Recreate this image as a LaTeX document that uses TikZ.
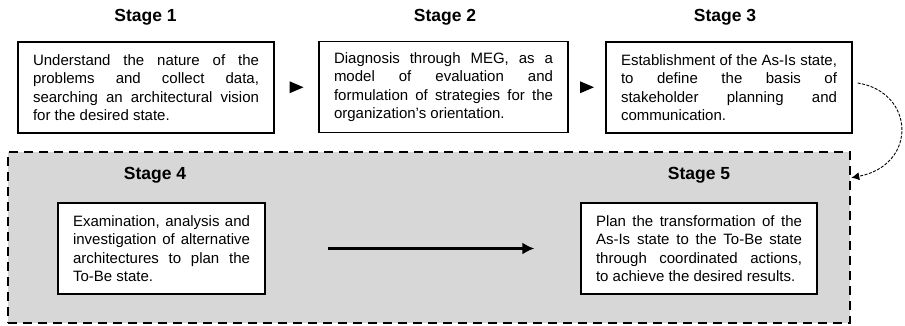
\documentclass[tikz,border=0pt]{standalone}
\usepackage{fontspec}
\setmainfont{Liberation Sans}
\usetikzlibrary{arrows.meta}
\tolerance=9999
\hbadness=10000

\definecolor{panelgray}{HTML}{D7D7D7}

\tikzset{
  stagetitle/.style={font=\fontsize{17.5}{20}\selectfont\bfseries, anchor=base},
  textbox/.style={draw, line width=1.2pt, fill=white,
    font=\fontsize{15}{18.3}\selectfont, align=justify,
    inner xsep=15pt, inner ysep=0pt, minimum height=91pt},
  panel/.style={draw, line width=2.5pt, dash pattern=on 9pt off 6pt,
    fill=panelgray, inner sep=0pt},
  stepmark/.style={fill=black},
  mainarrow/.style={line width=2.4pt, -{Latex[length=12pt,width=12pt]}},
  looparrow/.style={line width=0.9pt, dash pattern=on 3pt off 1.5pt,
    -{Latex[length=8pt,width=8pt]}},
}

\begin{document}
\begin{tikzpicture}[x=1pt, y=-1pt]
\useasboundingbox (0,0) rectangle (905,325);

% shaded panel holding stages 4 and 5
\node[panel, minimum width=842pt, minimum height=171pt] (grp) at (429,237.5) {};

% stage titles
\node[stagetitle] (s1) at (145.5,21) {Stage 1};
\node[stagetitle] (s2) at (445,21) {Stage 2};
\node[stagetitle] (s3) at (725,21) {Stage 3};
\node[stagetitle] (s4) at (155,179) {Stage 4};
\node[stagetitle] (s5) at (699,179) {Stage 5};

% stage descriptions
\node[textbox, text width=226pt] (b1) at (146,87.5)
  {Understand the nature of the\linebreak problems and collect data,\linebreak
   searching an architectural vision\linebreak for the desired state.};
\node[textbox, text width=219pt] (b2) at (443.5,87)
  {Diagnosis through MEG, as a\linebreak model of evaluation and\linebreak
   formulation of strategies for the\linebreak organization's orientation.};
\node[textbox, text width=216pt] (b3) at (729,87.5)
  {Establishment of the As-Is state,\linebreak to define the basis of\linebreak
   stakeholder planning and\linebreak communication.};
\node[textbox, text width=177pt] (b4) at (161.5,248.5)
  {Examination, analysis and\linebreak investigation of alternative\linebreak
   architectures to plan the\linebreak To-Be state.};
\node[textbox, text width=206pt] (b5) at (699,248.5)
  {Plan the transformation of the\linebreak As-Is state to the To-Be state\linebreak
   through coordinated actions,\linebreak to achieve the desired results.};

% small pointers between the top stages
\path (b1.east) -- (b2.west) coordinate[midway] (m1);
\path (b2.east) -- (b3.west) coordinate[midway] (m2);
\fill[stepmark] ([xshift=-7pt,yshift=6pt]m1) -- ([xshift=7pt]m1)
  -- ([xshift=-7pt,yshift=-6pt]m1) -- cycle;
\fill[stepmark] ([xshift=-7pt,yshift=6pt]m2) -- ([xshift=7pt]m2)
  -- ([xshift=-7pt,yshift=-6pt]m2) -- cycle;

% stage 4 to stage 5
\draw[mainarrow, shorten <=62pt, shorten >=46pt] (b4.east) -- (b5.west);

% stage 3 loops down into the panel
\coordinate (cs) at ([xshift=5pt,yshift=4.5pt]b3.east);
\coordinate (ce) at ([yshift=-27pt]grp.north east);
\draw[looparrow] (cs) .. controls (915,92) and (918,165) .. (ce);
\end{tikzpicture}
\end{document}
